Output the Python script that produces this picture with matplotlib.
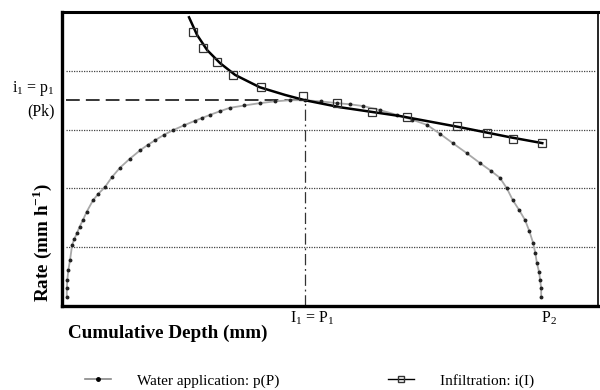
import matplotlib
matplotlib.use('Agg')
import matplotlib.pyplot as plt
from matplotlib.lines import Line2D

plt.rcParams['font.family'] = ['Liberation Serif', 'DejaVu Serif']
plt.rcParams['mathtext.fontset'] = 'custom'
plt.rcParams['mathtext.rm'] = 'Liberation Serif'
plt.rcParams['mathtext.bf'] = 'Liberation Serif:bold'

# water application p(P) (x: 0-100, y: 0-5)
water_x = [0.9, 0.9, 1.0, 1.2, 1.5, 1.9, 2.3, 2.8, 3.3, 3.9, 4.6, 5.8, 6.8, 8.0, 9.3, 10.8,
           12.6, 14.6, 16.0, 17.4, 19.0, 20.7, 22.7, 24.8, 26.2, 27.6, 29.4, 31.3, 34.0, 36.9,
           39.7, 42.5, 45.3,
           48.3, 51.3, 53.8, 56.2, 59.4, 62.5, 65.3, 68.1, 70.5, 72.9, 75.5, 78.0, 80.0, 81.7,
           83.0, 84.1, 85.3, 86.4, 87.2, 87.9, 88.3, 88.6, 89.0, 89.2, 89.4, 89.4]
water_y = [0.15, 0.30, 0.45, 0.62, 0.78, 1.04, 1.14, 1.24, 1.35, 1.46, 1.60, 1.80, 1.91, 2.02,
           2.19, 2.35, 2.50, 2.65, 2.74, 2.82, 2.91, 2.99, 3.07, 3.15, 3.20, 3.25, 3.31, 3.37,
           3.41, 3.45, 3.48, 3.50, 3.50,
           3.48, 3.45, 3.43, 3.40, 3.33, 3.25, 3.17, 3.08, 2.93, 2.77, 2.60, 2.43, 2.30, 2.18,
           2.00, 1.80, 1.63, 1.46, 1.27, 1.07, 0.90, 0.73, 0.58, 0.44, 0.30, 0.15]

# infiltration i(I): fitted curve and measured squares
infil_line_x = [23.7, 25.2, 27.1, 29.5, 32.3, 36.9, 41.6, 45.3, 51.9, 63.1, 74.3, 83.6, 89.6]
infil_line_y = [4.91, 4.61, 4.35, 4.13, 3.93, 3.72, 3.59, 3.50, 3.38, 3.23, 3.04, 2.87, 2.77]
infil_pts_x = [24.4, 26.3, 28.9, 31.9, 37.1, 45.0, 51.3, 57.8, 64.4, 73.7, 79.3, 84.1, 89.6]
infil_pts_y = [4.66, 4.39, 4.15, 3.93, 3.72, 3.57, 3.45, 3.30, 3.21, 3.06, 2.94, 2.84, 2.77]

i1 = 45.3
p2 = 89.4
pk = 3.5
grid_levels = [1, 2, 3, 4]

fig = plt.figure(figsize=(6, 3.9), dpi=100)
ax = fig.add_axes([0.1033, 0.2154, 0.8934, 0.7538])
ax.set_xlim(0, 100)
ax.set_ylim(0, 5)
ax.set_xticks([])
ax.set_yticks([])
for side, lw in [('left', 2.4), ('bottom', 2.4), ('top', 2.2), ('right', 1.2)]:
    ax.spines[side].set_linewidth(lw)

for g in grid_levels:
    ax.axhline(g, xmin=0.008, xmax=0.995, color='#444444', linestyle=(0, (1, 1)), linewidth=0.9)

ax.hlines(pk, 0.7, i1, color='black', linestyle=(0, (9, 4)), linewidth=1.1)
ax.vlines(i1, 0, pk, color='#333333', linestyle=(0, (9, 3, 1.5, 3)), linewidth=0.9)

ax.plot(water_x, water_y, color='#a8a8a8', linewidth=1.3, zorder=3)
ax.plot(water_x, water_y, linestyle='none', marker='o', markersize=1.8,
        color='#222222', zorder=4)
ax.plot(infil_line_x, infil_line_y, color='black', linewidth=1.8, zorder=5)
ax.plot(infil_pts_x, infil_pts_y, linestyle='none', marker='s', markersize=5.5,
        markerfacecolor='none', markeredgecolor='#333333', markeredgewidth=0.9, zorder=6)

fig.text(55 / 600, 1 - 89 / 390, r'i$_1$ = p$_1$', fontsize=11.5, ha='right', va='center')
fig.text(55 / 600, 1 - 111 / 390, '(Pk)', fontsize=11.5, ha='right', va='center')
fig.text(42 / 600, 1 - 242 / 390, r'Rate (mm h$^{\mathbf{-1}}$)', fontsize=13.8, fontweight='bold',
         rotation=90, ha='center', va='center')
fig.text(68 / 600, 1 - 333 / 390, 'Cumulative Depth (mm)', fontsize=13.8, fontweight='bold',
         ha='left', va='center')
fig.text(312 / 600, 1 - 318 / 390, r'I$_1$ = P$_1$', fontsize=11.5, ha='center', va='center')
fig.text(549 / 600, 1 - 318 / 390, r'P$_2$', fontsize=11.5, ha='center', va='center')

h_water = Line2D([], [], color='#888888', linewidth=1.2, marker='o', markersize=2.5,
                 markerfacecolor='black', markeredgecolor='black')
h_infil = Line2D([], [], color='black', linewidth=1.0, marker='s', markersize=5,
                 markerfacecolor='none', markeredgecolor='#333333')
fig.legend([h_water, h_infil], ['Water application: p(P)', 'Infiltration: i(I)'],
           loc='center left', bbox_to_anchor=(85 / 600, 1 - 381 / 390), ncol=2,
           frameon=False, fontsize=11, borderpad=0, borderaxespad=0, handlelength=1.7,
           handletextpad=1.7, columnspacing=7.1)

fig.savefig('out.png', dpi=100)
